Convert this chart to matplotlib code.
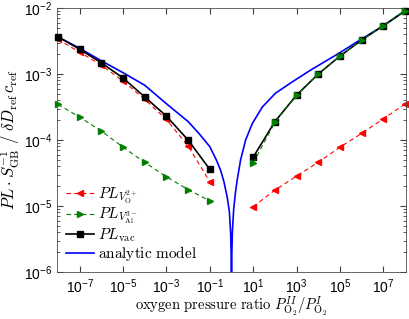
import numpy as np
import matplotlib
matplotlib.use('Agg')
import matplotlib.pyplot as plt
from matplotlib.ticker import NullLocator

# pressure ratio exponents (log10) for the simulated points
x_left = [-8, -7, -6, -5, -4, -3, -2, -1]
x_right = [1, 2, 3, 4, 5, 6, 7, 8]

# PL for oxygen vacancies (red)
pl_vo_left = [3.35e-3, 2.14e-3, 1.37e-3, 7.8e-4, 4.15e-4, 2.05e-4, 8.1e-5, 2.35e-5]
pl_vo_right = [9.8e-6, 1.74e-5, 2.85e-5, 4.6e-5, 7.8e-5, 1.26e-4, 2.1e-4, 3.5e-4]

# PL for aluminium vacancies (green)
pl_val_left = [3.47e-4, 2.22e-4, 1.37e-4, 7.8e-5, 4.6e-5, 2.78e-5, 1.78e-5, 1.2e-5]
pl_val_right = [4.5e-5, 1.85e-4, 4.75e-4, 9.9e-4, 1.86e-3, 3.25e-3, 5.4e-3, 9.0e-3]

# PL total vacancies (black)
pl_vac_left = [3.67e-3, 2.37e-3, 1.48e-3, 8.7e-4, 4.5e-4, 2.3e-4, 1.0e-4, 3.6e-5]
pl_vac_right = [5.5e-5, 1.9e-4, 4.8e-4, 1.0e-3, 1.87e-3, 3.27e-3, 5.4e-3, 9.0e-3]

# analytic model curve (log10 x, log10 y)
model_logx = [-8.05, -7, -6, -5, -4, -3, -2, -1.5, -1.0, -0.7, -0.5, -0.35, -0.2,
              -0.1, -0.04, -0.01, 0.0, 0.01, 0.04, 0.1, 0.18, 0.26, 0.42, 0.65,
              0.96, 1.42, 2.03, 2.8, 3.65, 4.88, 6.0, 7.0, 8.05]
model_logy = [-2.43, -2.61, -2.80, -2.98, -3.17, -3.45, -3.72, -3.90, -4.10, -4.30,
              -4.46, -4.63, -4.86, -5.08, -5.40, -5.80, -8.0, -5.80, -5.40, -5.05,
              -4.80, -4.61, -4.30, -4.00, -3.75, -3.50, -3.29, -3.12, -2.94, -2.70,
              -2.47, -2.27, -2.03]

x_ticks = [-7, -5, -3, -1, 1, 3, 5, 7]

plt.rcParams['mathtext.fontset'] = 'custom'
plt.rcParams['mathtext.rm'] = 'Liberation Sans'
plt.rcParams['mathtext.it'] = 'Liberation Sans:italic'
plt.rcParams['font.family'] = 'Liberation Sans'

fig = plt.figure(figsize=(4.09, 3.19), dpi=100)
ax = fig.add_axes([0.139, 0.147, 0.854, 0.828])

p = lambda e: 10.0 ** np.array(e, dtype=float)

ax.plot(p(model_logx), p(model_logy), color='#0000ff', lw=1.2, zorder=1.5)

red_kw = dict(color='#ff0000', ls='--', lw=0.8, marker='<', ms=4, dashes=(4, 3), zorder=2)
ax.plot(p(x_left), pl_vo_left, clip_on=False, **red_kw)
ax.plot(p(x_right), pl_vo_right, clip_on=False, **red_kw)

blk_kw = dict(color='black', ls='-', lw=1.2, marker='s', ms=4.2, zorder=3)
ax.plot(p(x_left), pl_vac_left, clip_on=False, **blk_kw)
ax.plot(p(x_right), pl_vac_right, clip_on=False, **blk_kw)

grn_kw = dict(color='#008000', ls='--', lw=0.8, marker='>', ms=4, dashes=(4, 3), zorder=4)
ax.plot(p(x_left), pl_val_left, clip_on=False, **grn_kw)
ax.plot(p(x_right), pl_val_right, clip_on=False, **grn_kw)

ax.set_xscale('log')
ax.set_yscale('log')
ax.set_xlim(10 ** -8.05, 10 ** 8.05)
ax.set_ylim(1e-6, 1e-2)
ax.set_xticks(p(x_ticks))
ax.xaxis.set_minor_locator(NullLocator())
ax.tick_params(which='both', direction='in', top=True, right=True,
               color='0.25', labelsize=10)
ax.tick_params(which='major', length=4)
ax.tick_params(which='minor', length=2)
ax.tick_params(axis='x', pad=4)
for s in ax.spines.values():
    s.set_color('0.3')
    s.set_linewidth(0.6)

ax.set_xlabel(r'$\mathrm{oxygen\ pressure\ ratio}\ P^{II}_{\mathrm{O}_2}/P^{I}_{\mathrm{O}_2}$',
              fontsize=10.5, math_fontfamily='cm', labelpad=-1)
ax.set_ylabel(r'$PL\cdot S_{\mathrm{GB}}^{-1}\ /\ \delta D_{\mathrm{ref}}\, c_{\mathrm{ref}}$',
              fontsize=12, math_fontfamily='cm', labelpad=1)

h_red, = ax.plot([], [], color='#ff0000', ls='--', lw=0.8, marker='<', ms=4, dashes=(4, 3))
h_grn, = ax.plot([], [], color='#008000', ls='--', lw=0.8, marker='>', ms=4, dashes=(4, 3))
h_blk, = ax.plot([], [], color='black', lw=1.2, marker='s', ms=4.2)
h_blu, = ax.plot([], [], color='#0000ff', lw=1.2)
leg = ax.legend([h_red, h_grn, h_blk, h_blu],
                [r'$PL_{V_{\mathrm{O}}^{2+}}$', r'$PL_{V_{\mathrm{Al}}^{3-}}$',
                 r'$PL_{\mathrm{vac}}$', r'$\mathrm{analytic\ model}$'],
                loc='lower left', frameon=False, fontsize=11, handlelength=1.8,
                handletextpad=0.3, labelspacing=0.0, borderaxespad=0.2)
for t in leg.get_texts():
    t.set_math_fontfamily('cm')

fig.savefig('out.png', dpi=100)
